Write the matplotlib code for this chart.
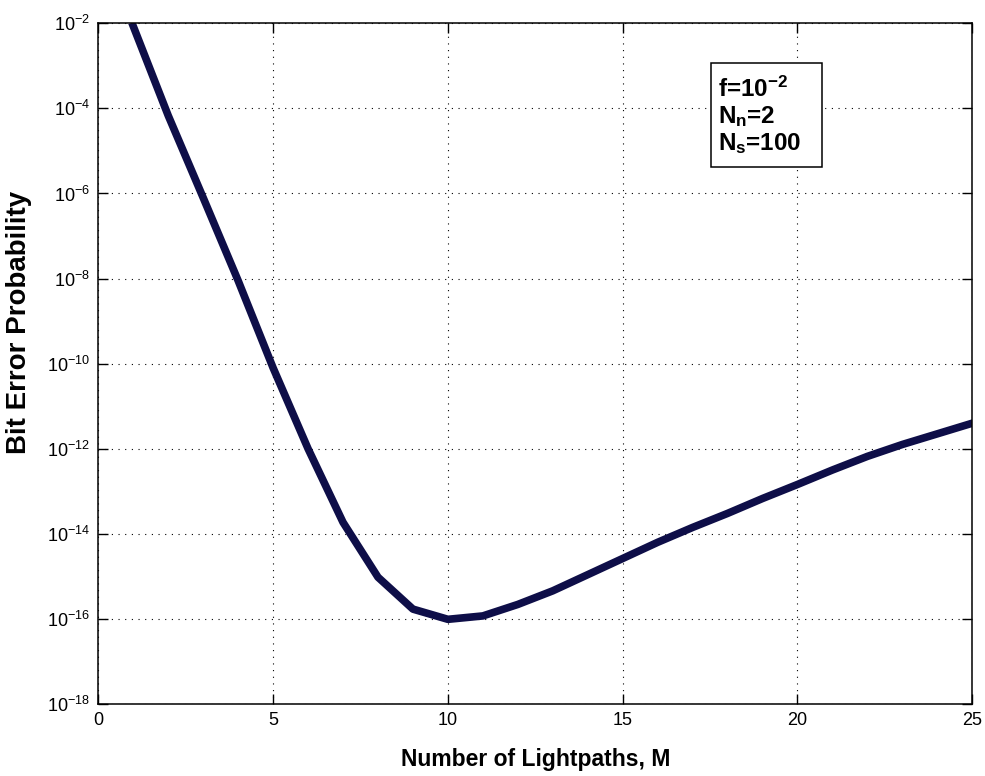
import numpy as np
import matplotlib
matplotlib.use("Agg")
import matplotlib.pyplot as plt
from matplotlib.patches import Rectangle
from matplotlib.ticker import FixedLocator, NullLocator

plt.rcParams['font.family'] = ['Liberation Sans', 'DejaVu Sans']
plt.rcParams['mathtext.fontset'] = 'custom'
plt.rcParams['mathtext.rm'] = 'Liberation Sans'
plt.rcParams['mathtext.it'] = 'Liberation Sans:italic'
plt.rcParams['mathtext.bf'] = 'Liberation Sans:bold'

# number of lightpaths and log10 of bit error probability
M = [1, 2, 3, 4, 5, 6, 7, 8, 9, 10, 11, 12, 13, 14, 15, 16, 17,
     18, 19, 20, 21, 22, 23, 24, 25]
log_ber = [-2.07, -4.17, -6.10, -8.05, -10.10, -12.00, -13.73, -15.02,
           -15.77, -16.01, -15.93, -15.66, -15.34, -14.96, -14.58, -14.20,
           -13.85, -13.52, -13.17, -12.84, -12.50, -12.18, -11.90, -11.65,
           -11.40]
ber = 10.0 ** np.array(log_ber)

x_ticks = [0, 5, 10, 15, 20, 25]
y_ticks = [1e-18, 1e-16, 1e-14, 1e-12, 1e-10, 1e-8, 1e-6, 1e-4, 1e-2]
params = [r'f=10$^{\mathbf{-2}}$', r'N$_{\mathbf{n}}$=2', r'N$_{\mathbf{s}}$=100']

fig = plt.figure(figsize=(9.85, 7.76), dpi=100)
ax = fig.add_axes([0.0998, 0.0928, 0.8873, 0.8772])

ax.semilogy(M, ber, color='#0e0e48', lw=5.5, solid_joinstyle='round')

ax.set_xlim(0, 25)
ax.set_ylim(1e-18, 1e-2)
ax.xaxis.set_major_locator(FixedLocator(x_ticks))
ax.yaxis.set_major_locator(FixedLocator(y_ticks))
ax.yaxis.set_minor_locator(NullLocator())
ax.xaxis.set_minor_locator(NullLocator())

ax.grid(True, which='major', color='black', lw=0.8, linestyle=(0, (1, 5)))
ax.tick_params(direction='in', length=7, width=1, top=True, right=True,
               labelsize=13, pad=6)
for s in ax.spines.values():
    s.set_linewidth(1.1)

ax.set_xlabel('Number of Lightpaths, M', fontsize=16.5, fontweight='bold')
ax.xaxis.set_label_coords(0.5, -0.064)
ax.set_ylabel('Bit Error Probability', fontsize=20, fontweight='bold')
ax.yaxis.set_label_coords(-0.076, 0.56)

# parameter box
ax.add_patch(Rectangle((0.7007, 0.7885), 0.1277, 0.1528, transform=ax.transAxes,
                       facecolor='white', edgecolor='black', lw=1.1, zorder=5))
for txt, yb in zip(params, [0.8922, 0.8532, 0.8139]):
    ax.text(0.709, yb, txt, transform=ax.transAxes, fontsize=17.5,
            fontweight='bold', va='baseline', ha='left', zorder=6)

fig.savefig('out.png', dpi=100)
